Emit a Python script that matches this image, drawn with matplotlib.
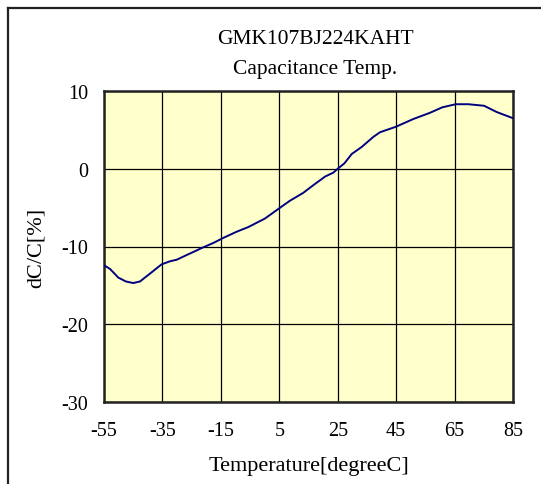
import numpy as np
import matplotlib.pyplot as plt
from matplotlib.lines import Line2D

# Capacitance change vs temperature
temps = [-55, -52.9, -50.1, -47.5, -45, -42.7, -39.3, -35.3, -32.4, -30.1,
         -27.3, -24.4, -21, -17.6, -14.2, -9.6, -5.6, 0.1, 5.3, 8.7,
         13.2, 16.7, 20.7, 23.5, 25, 27.3, 29.8, 33.2, 37.2, 39.5,
         44.9, 50.9, 56.6, 60.8, 65.4, 69.7, 75.1, 79.4, 85]
dcc = [-12.4, -12.9, -14.0, -14.5, -14.7, -14.5, -13.5, -12.3, -11.9, -11.7,
       -11.2, -10.7, -10.1, -9.55, -8.9, -8.1, -7.5, -6.4, -5.0, -4.1,
       -3.1, -2.1, -1.0, -0.5, 0.0, 0.7, 1.9, 2.8, 4.1, 4.7,
       5.4, 6.4, 7.2, 7.9, 8.3, 8.3, 8.1, 7.3, 6.5]

xticks = [-55, -35, -15, 5, 25, 45, 65, 85]
yticks = [-30, -20, -10, 0, 10]

plt.rcParams['font.family'] = 'Liberation Serif'
plt.rcParams['axes.unicode_minus'] = False

W, H = 541, 485
fig = plt.figure(figsize=(W / 100, H / 100), dpi=100)

# plot area in pixels: x 104..513, y 92..403
ax = fig.add_axes([104 / W, 1 - 403 / H, (513 - 104) / W, (403 - 92) / H])
ax.set_facecolor('#FFFFCC')
ax.plot(temps, dcc, color='#000080', lw=1.4, zorder=3)

ax.set_xlim(-55, 85)
ax.set_ylim(-30, 10)
ax.set_xticks(xticks)
ax.set_yticks(yticks)
ax.grid(True, color='black', lw=0.9)
ax.tick_params(length=0, labelsize=14.5)
ax.tick_params(axis='x', pad=14)
ax.tick_params(axis='y', pad=11.5)
for s in ax.spines.values():
    s.set_linewidth(1.8)
    s.set_color('#222222')

ax.set_xlabel('Temperature[degreeC]', fontsize=16, labelpad=11)
ax.set_ylabel('dC/C[%]', fontsize=16, labelpad=11)

fig.text(315 / W, 1 - 40 / H, 'GMK107BJ224KAHT', ha='center', va='center', fontsize=15.5)
fig.text(315 / W, 1 - 70 / H, 'Capacitance Temp.', ha='center', va='center', fontsize=15.5)

# outer frame (top and left edges visible)
fig.add_artist(Line2D([8 / W, 8 / W], [0, 1 - 9 / H], transform=fig.transFigure, color='#222222', lw=1.6))
fig.add_artist(Line2D([8 / W, 1], [1 - 9 / H, 1 - 9 / H], transform=fig.transFigure, color='#222222', lw=1.6))

fig.savefig('out.png', dpi=100)
